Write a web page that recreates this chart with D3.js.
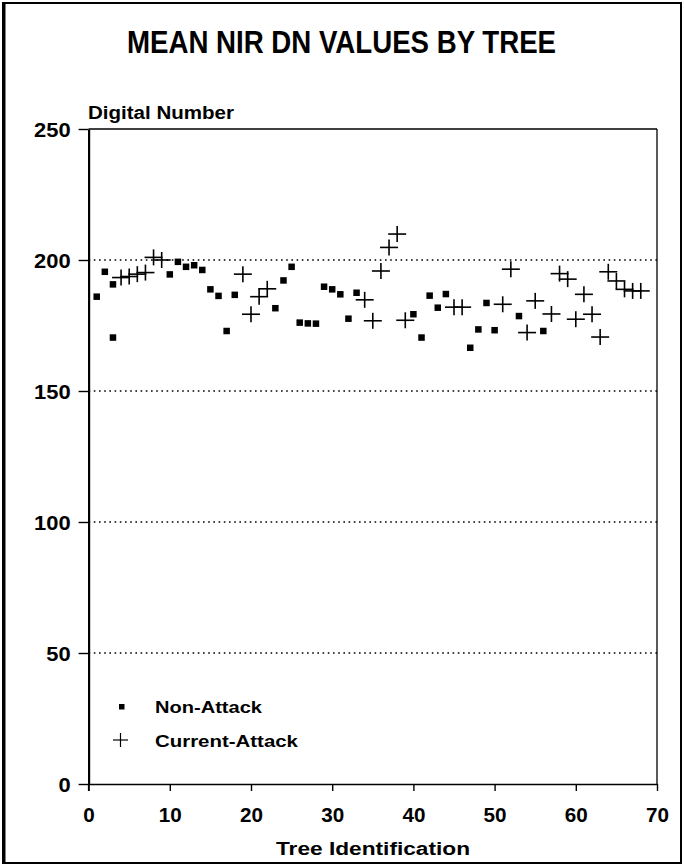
<!DOCTYPE html>
<html>
<head>
<meta charset="utf-8">
<script src="https://cdn.jsdelivr.net/npm/d3@7"></script>
<style>
  html, body { margin: 0; padding: 0; background: #fff; }
  svg { display: block; }
  text { font-family: "Liberation Sans", Arial, Helvetica, sans-serif; font-weight: bold; fill: #000; }
</style>
</head>
<body>
<svg id="chart" width="684" height="866"></svg>
<script>
// Mean NIR digital number per tree, split by attack status
const nonAttackTree = [1, 2, 3, 3, 10, 11, 12, 13, 14, 15, 16, 17, 18, 23, 24, 25, 26, 27, 28, 29, 30, 31, 32, 33, 40, 41, 42, 43, 44, 47, 48, 49, 50, 53, 56];
const nonAttackDN   = [186, 195.5, 190.7, 170.4, 194.5, 199.3, 197.4, 198, 196.2, 188.8, 186.3, 172.9, 186.7, 181.6, 192.2, 197.4, 176.1, 175.8, 175.7, 189.8, 188.8, 186.9, 177.6, 187.5, 179.3, 170.4, 186.4, 181.8, 187, 166.5, 173.5, 183.6, 173.2, 178.6, 172.9];

const currentTree = [4, 5, 6, 7, 8, 9, 19, 20, 21, 22, 34, 35, 36, 37, 38, 39, 45, 46, 51, 52, 54, 55, 57, 58, 59, 60, 61, 62, 63, 64, 65, 66, 67, 68];
const currentDN   = [193.3, 193.7, 194.6, 195.2, 201, 200, 194.6, 179.3, 186, 189, 184.8, 176.8, 195.8, 204.8, 209.9, 177, 182, 182, 183.1, 196.5, 172.3, 184.4, 179.4, 194.8, 192.7, 177.4, 186.9, 179.3, 170.6, 195.5, 192, 188.8, 188.2, 188.2];

const xTicks = [0, 10, 20, 30, 40, 50, 60, 70];
const yTicks = [0, 50, 100, 150, 200, 250];
const gridValues = [50, 100, 150, 200];

const titleText = "MEAN NIR DN VALUES BY TREE";
const yTitleText = "Digital Number";
const xTitleText = "Tree Identification";
const legendLabels = ["Non-Attack", "Current-Attack"];

const svg = d3.select("#chart");

const x = d3.scaleLinear().domain([0, 70]).range([88.6, 657]);
const y = d3.scaleLinear().domain([0, 250]).range([784, 129]);

// outer frame
svg.append("rect")
  .attr("x", 3).attr("y", 3).attr("width", 678).attr("height", 860)
  .attr("fill", "none").attr("stroke", "#000").attr("stroke-width", 2);
svg.append("line")
  .attr("x1", 4).attr("x2", 4).attr("y1", 3).attr("y2", 863)
  .attr("stroke", "#000").attr("stroke-width", 3);

// title
svg.append("text")
  .attr("x", 127).attr("y", 53)
  .attr("font-size", 32)
  .attr("textLength", 429).attr("lengthAdjust", "spacingAndGlyphs")
  .text(titleText);

// y axis title
svg.append("text")
  .attr("x", 88).attr("y", 119)
  .attr("font-size", 18)
  .attr("textLength", 146).attr("lengthAdjust", "spacingAndGlyphs")
  .text(yTitleText);

// dotted gridlines
svg.append("g").selectAll("line")
  .data(gridValues)
  .join("line")
  .attr("x1", x(0)).attr("x2", x(70))
  .attr("y1", d => y(d)).attr("y2", d => y(d))
  .attr("stroke", "#000").attr("stroke-width", 1.4)
  .attr("stroke-dasharray", "1.6,3.6");

// top and right frame of the plot area
svg.append("line")
  .attr("x1", x(0)).attr("x2", x(70)).attr("y1", y(250)).attr("y2", y(250))
  .attr("stroke", "#000").attr("stroke-width", 1.5);
svg.append("line")
  .attr("x1", x(70)).attr("x2", x(70)).attr("y1", y(250)).attr("y2", y(0))
  .attr("stroke", "#000").attr("stroke-width", 1.3);

// y axis
const yAxis = svg.append("g")
  .attr("transform", `translate(${x(0)},0)`)
  .call(d3.axisLeft(y).tickValues(yTicks).tickSize(10).tickSizeOuter(0).tickPadding(8));
yAxis.select(".domain").attr("stroke-width", 2.2);
yAxis.selectAll(".tick line").attr("stroke-width", 1.4);
yAxis.selectAll(".tick text")
  .attr("font-family", "Liberation Sans, Arial, sans-serif")
  .attr("font-weight", "bold")
  .attr("font-size", 19.5)
  .attr("dy", "0.36em")
  .each(function (d) {
    const n = String(d).length;
    d3.select(this).attr("textLength", n * 12.2).attr("lengthAdjust", "spacingAndGlyphs");
  });

// x axis
const xAxis = svg.append("g")
  .attr("transform", `translate(0,${y(0)})`)
  .call(d3.axisBottom(x).tickValues(xTicks).tickSize(7).tickSizeOuter(0).tickPadding(0));
xAxis.select(".domain").attr("stroke-width", 1.6);
xAxis.selectAll(".tick line").attr("stroke-width", 1.4);
xAxis.selectAll(".tick text")
  .attr("font-family", "Liberation Sans, Arial, sans-serif")
  .attr("font-weight", "bold")
  .attr("font-size", 19.5)
  .attr("y", 38).attr("dy", 0)
  .each(function (d) {
    const n = String(d).length;
    d3.select(this).attr("textLength", n * 11.5).attr("lengthAdjust", "spacingAndGlyphs");
  });
// short tick under the origin of the y axis
svg.append("line")
  .attr("x1", x(0)).attr("x2", x(0)).attr("y1", y(0)).attr("y2", y(0) + 7)
  .attr("stroke", "#000").attr("stroke-width", 1.4);

// x axis title
svg.append("text")
  .attr("x", 276).attr("y", 855)
  .attr("font-size", 18)
  .attr("textLength", 194).attr("lengthAdjust", "spacingAndGlyphs")
  .text(xTitleText);

// Non-Attack squares
const sq = 6.5;
svg.append("g").selectAll("rect")
  .data(nonAttackTree.map((t, i) => [t, nonAttackDN[i]]))
  .join("rect")
  .attr("x", d => x(d[0]) - sq / 2)
  .attr("y", d => y(d[1]) - sq / 2)
  .attr("width", sq).attr("height", sq)
  .attr("fill", "#000");

// Current-Attack crosses
const hw = 9, hh = 8;
const crosses = svg.append("g").attr("stroke", "#000").attr("stroke-width", 1.6)
  .selectAll("g")
  .data(currentTree.map((t, i) => [t, currentDN[i]]))
  .join("g")
  .attr("transform", d => `translate(${x(d[0])},${y(d[1])})`);
crosses.append("line").attr("x1", -hw).attr("x2", hw).attr("y1", 0).attr("y2", 0);
crosses.append("line").attr("x1", 0).attr("x2", 0).attr("y1", -hh).attr("y2", hh);

// legend
const legend = svg.append("g");
legend.append("rect")
  .attr("x", 119).attr("y", 704).attr("width", 5.5).attr("height", 5.5).attr("fill", "#000");
legend.append("text")
  .attr("x", 155).attr("y", 713)
  .attr("font-size", 17)
  .attr("textLength", 107).attr("lengthAdjust", "spacingAndGlyphs")
  .text(legendLabels[0]);
legend.append("line").attr("x1", 113).attr("x2", 128).attr("y1", 740).attr("y2", 740)
  .attr("stroke", "#000").attr("stroke-width", 1.2);
legend.append("line").attr("x1", 120.5).attr("x2", 120.5).attr("y1", 733).attr("y2", 747)
  .attr("stroke", "#000").attr("stroke-width", 1.2);
legend.append("text")
  .attr("x", 155).attr("y", 747)
  .attr("font-size", 17)
  .attr("textLength", 143).attr("lengthAdjust", "spacingAndGlyphs")
  .text(legendLabels[1]);
</script>
</body>
</html>
